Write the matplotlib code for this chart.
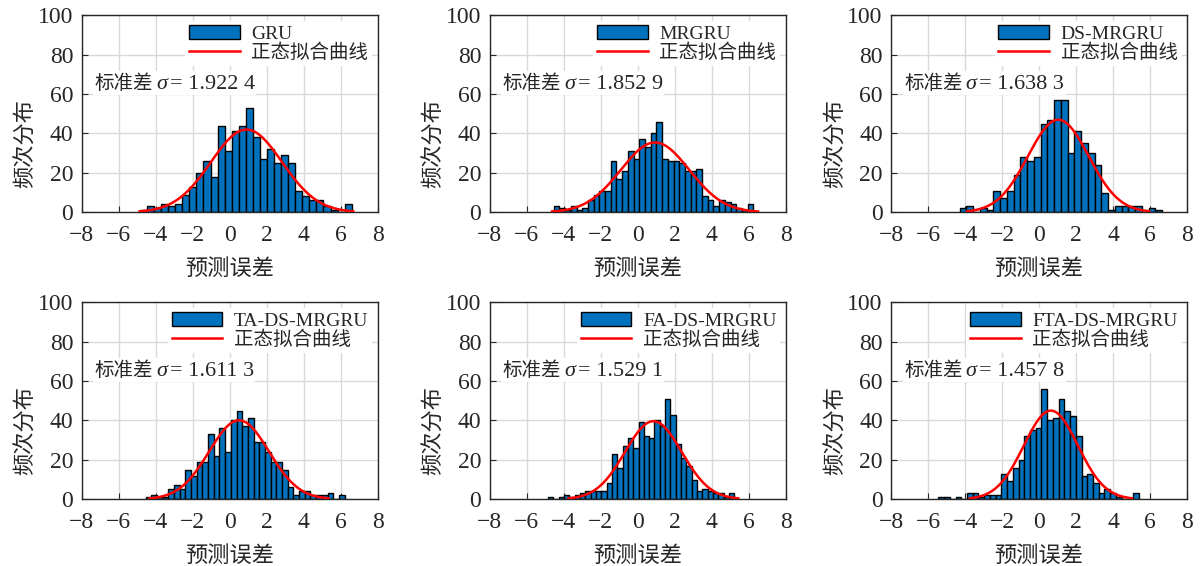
import numpy as np
import matplotlib
matplotlib.use('Agg')
import matplotlib.pyplot as plt
from matplotlib.offsetbox import TextArea, HPacker, AnchoredOffsetbox

plt.rcParams['font.family'] = ['Liberation Serif', 'Noto Sans CJK SC']
plt.rcParams['axes.unicode_minus'] = True

# error histograms of the six models (counts per bin)
models = ['GRU', 'MRGRU', 'DS-MRGRU', 'TA-DS-MRGRU', 'FA-DS-MRGRU', 'FTA-DS-MRGRU']
sigmas = [1.9224, 1.8529, 1.6383, 1.6113, 1.5291, 1.4578]
means = [0.90, 0.93, 1.03, 0.50, 0.84, 0.63]
bin_starts = [-4.85, -4.54, -4.29, -4.55, -4.84, -5.44]
bin_widths = [0.381, 0.308, 0.364, 0.307, 0.287, 0.309]

counts_gru = [1, 3, 2, 4, 3, 4, 9, 13, 20, 26, 18, 44, 31, 41, 44, 53, 38, 27, 32, 25,
              29, 25, 11, 8, 6, 6, 3, 1, 0, 4]
counts_mrgru = [3, 2, 1, 3, 1, 2, 6, 9, 11, 11, 26, 17, 21, 31, 27, 37, 33, 40, 46, 27,
                26, 26, 25, 21, 21, 22, 8, 6, 3, 6, 5, 4, 2, 1, 4]
counts_ds = [2, 3, 0, 2, 1, 11, 7, 11, 19, 28, 26, 28, 45, 47, 57, 57, 30, 41, 35, 30,
             24, 10, 1, 3, 3, 3, 3, 0, 2, 1]
counts_ta = [1, 2, 1, 1, 5, 7, 5, 15, 12, 19, 19, 33, 22, 36, 24, 40, 45, 37, 41, 29,
             29, 24, 19, 19, 15, 6, 2, 4, 4, 2, 2, 2, 3, 0, 2]
counts_fa = [1, 0, 1, 2, 1, 2, 3, 4, 4, 4, 4, 8, 23, 16, 27, 31, 26, 39, 32, 31,
             40, 37, 51, 43, 28, 21, 17, 10, 4, 5, 4, 3, 3, 1, 3]
counts_fta = [1, 1, 0, 1, 0, 3, 3, 1, 2, 2, 2, 13, 9, 16, 20, 32, 35, 36, 56, 40,
              41, 51, 45, 42, 32, 12, 13, 8, 3, 5, 3, 1, 0, 0, 3]
all_counts = [counts_gru, counts_mrgru, counts_ds, counts_ta, counts_fa, counts_fta]

bar_color = '#0072BD'
text_color = '#262626'

fig = plt.figure(figsize=(12, 5.66), dpi=100)
lefts = [0.068, 0.408, 0.7425]
bottoms = [0.625, 0.118]

for i in range(6):
    ax = fig.add_axes([lefts[i % 3], bottoms[i // 3], 0.247, 0.348])
    counts = np.array(all_counts[i])
    w = bin_widths[i]
    edges = bin_starts[i] + w * np.arange(len(counts))
    bars = ax.bar(edges, counts, width=w, align='edge', color=bar_color,
                  edgecolor='black', linewidth=1.0, zorder=2)

    # normal curve scaled to the histogram area
    mu, s = means[i], sigmas[i]
    xs = np.linspace(mu - 3 * s, mu + 3 * s, 300)
    area = counts.sum() * w
    ys = area / (s * np.sqrt(2 * np.pi)) * np.exp(-0.5 * ((xs - mu) / s) ** 2)
    line, = ax.plot(xs, ys, color='red', linewidth=1.8, zorder=3)

    ax.set_xlim(-8, 8)
    ax.set_ylim(0, 100)
    ax.set_xticks(np.arange(-8, 9, 2))
    ax.set_yticks(np.arange(0, 101, 20))
    ax.tick_params(direction='in', length=4, labelsize=17, colors=text_color)
    ax.tick_params(axis='x', pad=9)
    ax.tick_params(axis='y', pad=6)
    ax.grid(True, color='#d9d9d9', linewidth=1.0, zorder=0)
    ax.set_axisbelow(True)
    for sp in ax.spines.values():
        sp.set_color(text_color)
        sp.set_linewidth(1.0)
    ax.set_xlabel('预测误差', fontsize=16, color=text_color)
    ax.set_ylabel('频次分布', fontsize=16, color=text_color)
    ax.xaxis.set_label_coords(0.5, -0.24)
    ax.yaxis.set_label_coords(-0.15, 0.35)

    leg = ax.legend([bars, line], [models[i], '正态拟合曲线'], loc='upper right',
                    fontsize=14, frameon=True, fancybox=False,
                    handlelength=2.6, handleheight=0.75, borderpad=0.2,
                    borderaxespad=0.3, labelspacing=0.05, handletextpad=0.6)
    leg.get_frame().set_edgecolor('none')
    leg.get_frame().set_facecolor('white')
    leg.get_frame().set_alpha(1)
    for t in leg.get_texts():
        t.set_color(text_color)

    label = f'{sigmas[i]:.4f}'
    label = label[:-1] + ' ' + label[-1]
    parts = [
        TextArea('标准差', textprops=dict(family='Noto Sans CJK SC', size=14, color=text_color)),
        TextArea('σ', textprops=dict(family='Liberation Serif', style='italic', size=16, color=text_color)),
        TextArea('= ' + label, textprops=dict(family='Liberation Serif', size=16, color=text_color)),
    ]
    box = HPacker(children=parts, align='baseline', pad=0, sep=2)
    anchored = AnchoredOffsetbox(loc='center left', child=box, pad=0.1, borderpad=0,
                                 bbox_to_anchor=(0.04, 0.655),
                                 bbox_transform=ax.transAxes, frameon=True)
    anchored.patch.set_facecolor('white')
    anchored.patch.set_edgecolor('none')
    ax.add_artist(anchored)

plt.savefig('out.png', dpi=100)
